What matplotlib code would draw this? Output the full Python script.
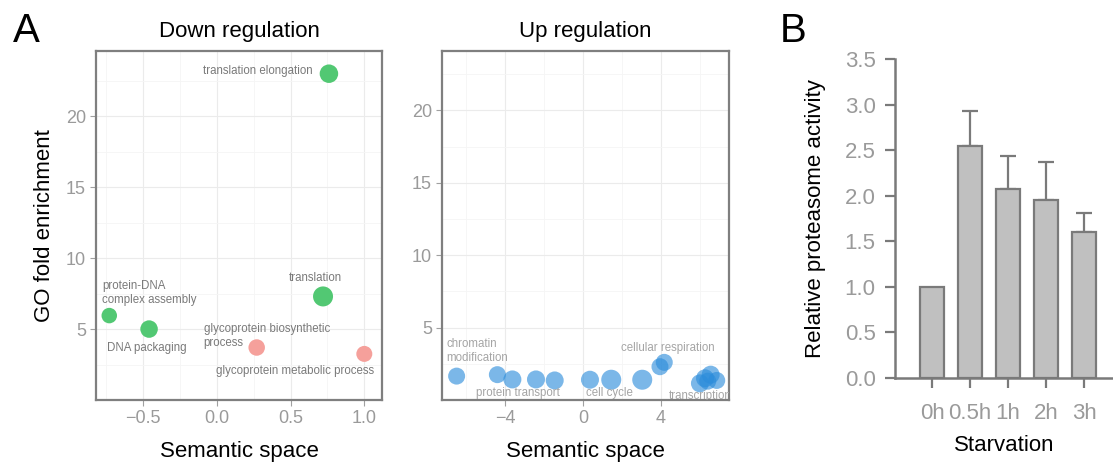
import matplotlib
matplotlib.use('Agg')
import matplotlib.pyplot as plt
from matplotlib.ticker import MultipleLocator
import numpy as np

plt.rcParams['font.family'] = ['Liberation Sans', 'DejaVu Sans']

# ---- data: down regulation GO terms
down_x = [0.76, 0.72, -0.73, -0.46, 0.27, 1.0]
down_y = [23.0, 7.3, 5.95, 5.0, 3.7, 3.25]
down_size = [18.5, 20, 15.5, 17.5, 16.5, 16]   # bubble diameters
down_group = ['g', 'g', 'g', 'g', 'p', 'p']

down_labels = ['translation elongation', 'translation', 'protein-DNA\ncomplex assembly',
               'DNA packaging', 'glycoprotein biosynthetic\nprocess',
               'glycoprotein metabolic process']
down_lab_x = [0.65, 0.67, -0.78, -0.475, -0.09, 0.53]
down_lab_y = [23.2, 8.6, 7.55, 3.7, 4.5, 2.05]
down_lab_ha = ['right', 'center', 'left', 'center', 'left', 'center']

# ---- data: up regulation GO terms
up_x = [-6.48, -4.39, -3.62, -2.41, -1.45, 0.36, 1.45, 3.04, 3.95, 4.17,
        6.0, 6.26, 6.55, 6.86, 6.4]
up_y = [1.65, 1.75, 1.42, 1.42, 1.35, 1.4, 1.4, 1.4, 2.3, 2.6,
        1.15, 1.5, 1.75, 1.35, 1.3]
up_size = [17, 17, 18, 18, 18, 18, 20, 20, 17, 17, 18, 18, 18, 17, 17]

up_labels = ['chromatin\nmodification', 'protein transport', 'cell cycle',
             'cellular respiration', 'transcription']
up_lab_x = [-6.99, -3.36, 1.37, 4.34, 4.38]
up_lab_y = [3.4, 0.5, 0.5, 3.57, 0.26]
up_lab_ha = ['left', 'center', 'center', 'center', 'left']

# ---- data: proteasome activity
conditions = ['0h', '0.5h', '1h', '2h', '3h']
activity = [1.0, 2.55, 2.07, 1.95, 1.60]
activity_err = [0.0, 0.38, 0.37, 0.42, 0.21]

W, H = 1113, 462
fig = plt.figure(figsize=(W / 100, H / 100), dpi=100)

border = '#7f7f7f'
tickc = '#9a9a9a'
colors = {'g': '#52c873', 'p': '#f5a09b'}


def px2pt(d):
    return (d * 0.72) ** 2


def style_bw(ax):
    for s in ax.spines.values():
        s.set_color(border)
        s.set_linewidth(1.6)
    ax.grid(True, which='major', color='#ebebeb', lw=0.8)
    ax.grid(True, which='minor', color='#f5f5f5', lw=0.6)
    ax.set_axisbelow(True)
    ax.tick_params(which='major', length=4.3, color='#a0a0a0', labelcolor=tickc,
                   labelsize=13, pad=3)
    ax.tick_params(which='minor', length=0)


# ---- Down regulation
ax1 = fig.add_axes([96 / W, 1 - 400 / H, 286 / W, 349 / H])
style_bw(ax1)
ax1.scatter(down_x, down_y, s=[px2pt(d) for d in down_size],
            c=[colors[g] for g in down_group], linewidths=0, zorder=3)
for t, x, y, ha in zip(down_labels, down_lab_x, down_lab_y, down_lab_ha):
    ax1.text(x, y, t, ha=ha, va='center', fontsize=8.3, color='#7a7a7a',
             linespacing=1.25, zorder=4)
ax1.set_xlim(-0.82, 1.12)
ax1.set_ylim(0, 24.6)
ax1.xaxis.set_minor_locator(MultipleLocator(0.25))
ax1.yaxis.set_minor_locator(MultipleLocator(2.5))
ax1.set_yticks([5, 10, 15, 20])
ax1.set_xticks([-0.5, 0.0, 0.5, 1.0])
ax1.set_xticklabels(['\u22120.5', '0.0', '0.5', '1.0'])
ax1.set_title('Down regulation', fontsize=16, pad=10)
ax1.set_xlabel('Semantic space', fontsize=16, labelpad=10)
ax1.set_ylabel('GO fold enrichment', fontsize=16, labelpad=8)

# ---- Up regulation
ax2 = fig.add_axes([442 / W, 1 - 400 / H, 287 / W, 349 / H])
style_bw(ax2)
ax2.scatter(up_x, up_y, s=[px2pt(d) for d in up_size], c='#2b8cdb',
            alpha=0.62, linewidths=0, zorder=3)
for t, x, y, ha in zip(up_labels, up_lab_x, up_lab_y, up_lab_ha):
    ax2.text(x, y, t, ha=ha, va='center', fontsize=8.3, color='#a5a5a5',
             linespacing=1.25, zorder=4, clip_on=True)
ax2.set_xlim(-7.23, 7.49)
ax2.set_ylim(0, 24.1)
ax2.xaxis.set_minor_locator(MultipleLocator(2))
ax2.yaxis.set_minor_locator(MultipleLocator(2.5))
ax2.set_xticks([-4, 0, 4])
ax2.set_xticklabels(['\u22124', '0', '4'])
ax2.set_yticks([5, 10, 15, 20])
ax2.set_title('Up regulation', fontsize=16, pad=10)
ax2.set_xlabel('Semantic space', fontsize=16, labelpad=10)

# ---- B: proteasome activity
ax3 = fig.add_axes([895 / W, 1 - 378 / H, (W - 895) / W, 319 / H])
pos = np.arange(len(conditions))
ax3.bar(pos, activity, width=0.62, color='#c0c0c0', edgecolor='#7a7a7a',
        linewidth=1.6, zorder=2)
ax3.errorbar(pos[1:], activity[1:], yerr=[np.zeros(4), activity_err[1:]],
             fmt='none', ecolor='#7a7a7a', elinewidth=1.6, capsize=6,
             capthick=1.6, zorder=1)
ax3.set_xlim(-0.98, 4.76)
ax3.set_ylim(0, 3.5)
ax3.set_yticks(np.arange(0, 3.51, 0.5))
ax3.set_yticklabels([f'{v:.1f}' for v in np.arange(0, 3.51, 0.5)])
ax3.set_xticks(pos)
ax3.set_xticklabels(conditions)
for s in ['top', 'right']:
    ax3.spines[s].set_visible(False)
for s in ['left', 'bottom']:
    ax3.spines[s].set_color('#7a7a7a')
    ax3.spines[s].set_linewidth(1.8)
ax3.tick_params(axis='both', length=7, width=1.6, color='#7a7a7a',
                labelcolor=tickc, labelsize=16)
ax3.tick_params(axis='x', pad=11)
ax3.tick_params(axis='y', pad=7)
ax3.set_ylabel('Relative proteasome activity', fontsize=16, labelpad=13)
ax3.set_xlabel('Starvation', fontsize=16, labelpad=8)

fig.text(13 / W, 1 - 42 / H, 'A', fontsize=29, va='baseline', ha='left')
fig.text(780 / W, 1 - 42 / H, 'B', fontsize=29, va='baseline', ha='left')

fig.savefig('out.png', dpi=100)
